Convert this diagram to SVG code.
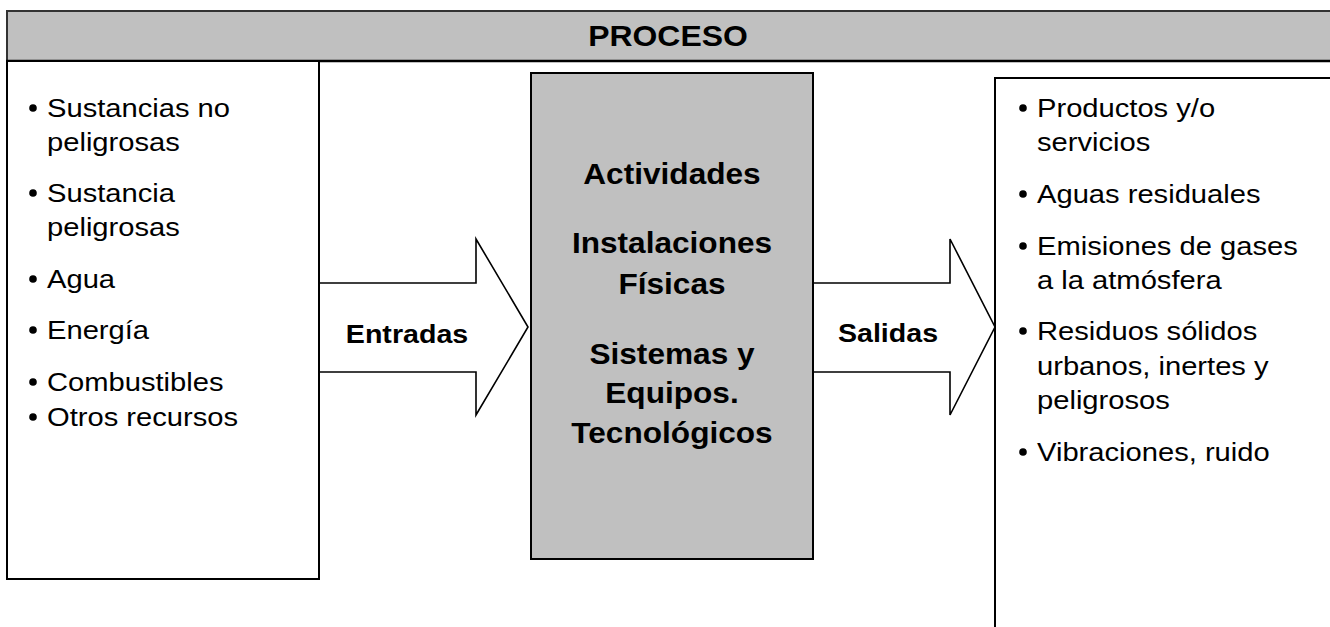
<svg xmlns="http://www.w3.org/2000/svg" width="1330" height="627" viewBox="0 0 1330 627">
<style>
.t{font-family:"Liberation Sans",Arial,sans-serif;fill:#000}
.l{font-size:26.5px}
.b{font-weight:bold}
.c{font-size:29px;text-anchor:middle}
.a{font-size:26px;text-anchor:middle}
.bx{fill:#fff;stroke:#000;stroke-width:2}
.gr{fill:#c0c0c0;stroke:#000;stroke-width:2}
.ar{fill:#fff;stroke:#000;stroke-width:1.6;stroke-linejoin:miter}
</style>
<defs>
<circle id="dot" r="3.8" fill="#000"/>
</defs>
<rect width="1330" height="627" fill="#fff"/>
<g id="header">
<rect x="7" y="11" width="1330" height="50" fill="#c0c0c0" stroke="#333" stroke-width="2"/>
<line x1="6" y1="61" x2="1330" y2="61" stroke="#000" stroke-width="2.5"/>
<text class="t b c" transform="translate(668,46) scale(1.1,1)">PROCESO</text>
</g>
<g id="connectors">
<g id="entradas">
<path class="ar" d="M319,283 H476 V239 L528,327 L476,415 V372 H319"/>
<text class="t b a" transform="translate(407,343) scale(1.1,1)">Entradas</text>
</g>
<g id="salidas">
<path class="ar" d="M813,283 H950 V239 L995,327 L950,415 V372 H813"/>
<text class="t b a" transform="translate(888,342) scale(1.1,1)">Salidas</text>
</g>
</g>
<g id="inputs">
<rect class="bx" x="7" y="61" width="312" height="518"/>
<use href="#dot" x="33" y="108"/>
<text class="t l" transform="translate(47,117) scale(1.1,1)">Sustancias no</text>
<text class="t l" transform="translate(47,151) scale(1.1,1)">peligrosas</text>
<use href="#dot" x="33" y="193"/>
<text class="t l" transform="translate(47,202) scale(1.1,1)">Sustancia</text>
<text class="t l" transform="translate(47,236) scale(1.1,1)">peligrosas</text>
<use href="#dot" x="33" y="279"/>
<text class="t l" transform="translate(47,288) scale(1.1,1)">Agua</text>
<use href="#dot" x="33" y="330"/>
<text class="t l" transform="translate(47,339) scale(1.1,1)">Energía</text>
<use href="#dot" x="33" y="382"/>
<text class="t l" transform="translate(47,391) scale(1.1,1)">Combustibles</text>
<use href="#dot" x="33" y="417"/>
<text class="t l" transform="translate(47,426) scale(1.1,1)">Otros recursos</text>
</g>
<g id="process">
<rect class="gr" x="531" y="73" width="282" height="486"/>
<text class="t b c" transform="translate(672,184) scale(1.09,1)">Actividades</text>
<text class="t b c" transform="translate(672,253) scale(1.09,1)">Instalaciones</text>
<text class="t b c" transform="translate(672,294) scale(1.09,1)">Físicas</text>
<text class="t b c" transform="translate(672,364) scale(1.09,1)">Sistemas y</text>
<text class="t b c" transform="translate(672,403) scale(1.09,1)">Equipos.</text>
<text class="t b c" transform="translate(672,443) scale(1.09,1)">Tecnológicos</text>
</g>
<g id="outputs">
<rect class="bx" x="995" y="78" width="345" height="560" stroke-width="1.6"/>
<use href="#dot" x="1023" y="108"/>
<text class="t l" transform="translate(1037,117) scale(1.1,1)">Productos y/o</text>
<text class="t l" transform="translate(1037,151) scale(1.1,1)">servicios</text>
<use href="#dot" x="1023" y="194"/>
<text class="t l" transform="translate(1037,203) scale(1.1,1)">Aguas residuales</text>
<use href="#dot" x="1023" y="246"/>
<text class="t l" transform="translate(1037,255) scale(1.1,1)">Emisiones de gases</text>
<text class="t l" transform="translate(1037,289) scale(1.1,1)">a la atmósfera</text>
<use href="#dot" x="1023" y="331"/>
<text class="t l" transform="translate(1037,340) scale(1.1,1)">Residuos sólidos</text>
<text class="t l" transform="translate(1037,375) scale(1.1,1)">urbanos, inertes y</text>
<text class="t l" transform="translate(1037,409) scale(1.1,1)">peligrosos</text>
<use href="#dot" x="1023" y="452"/>
<text class="t l" transform="translate(1037,461) scale(1.1,1)">Vibraciones, ruido</text>
</g>
</svg>
